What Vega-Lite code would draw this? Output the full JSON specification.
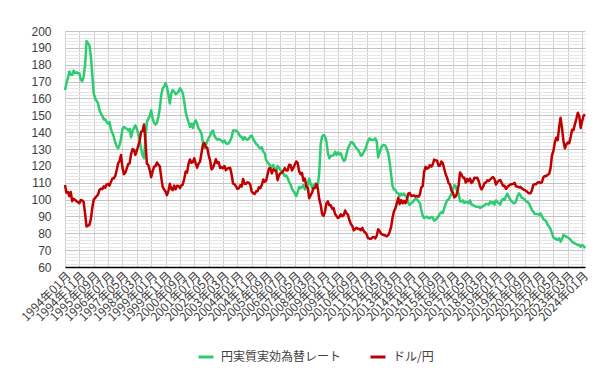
{
"$schema": "https://vega.github.io/schema/vega-lite/v6.json",
"width": 520, "height": 236,
"autosize": {"type": "none"},
"padding": {"left": 65, "top": 31, "right": 30, "bottom": 113},
"background": "white",
"config": {"view": {"stroke": null}, "font": "Liberation Sans"},
"data": {"values": [
{"d":"1994年01月","g":165,"r":108.6},{"d":"1994年02月","g":169,"r":104},{"d":"1994年03月","g":172,"r":104.5},{"d":"1994年04月","g":176,"r":102},{"d":"1994年05月","g":174,"r":104.5},{"d":"1994年06月","g":174,"r":99},{"d":"1994年07月","g":176.5,"r":100.5},{"d":"1994年08月","g":175,"r":99.8},{"d":"1994年09月","g":175.5,"r":99},{"d":"1994年10月","g":175,"r":98.5},{"d":"1994年11月","g":175,"r":97.8},{"d":"1994年12月","g":171,"r":99.7},
{"d":"1995年01月","g":170.3,"r":99.5},{"d":"1995年02月","g":173,"r":98.5},{"d":"1995年03月","g":180,"r":91.5},{"d":"1995年04月","g":194,"r":84},{"d":"1995年05月","g":192.7,"r":84.5},{"d":"1995年06月","g":191.5,"r":85},{"d":"1995年07月","g":185,"r":88.5},{"d":"1995年08月","g":174,"r":95},{"d":"1995年09月","g":163,"r":100},{"d":"1995年10月","g":160,"r":101},{"d":"1995年11月","g":158.5,"r":102},{"d":"1995年12月","g":157,"r":103},
{"d":"1996年01月","g":153,"r":105.7},{"d":"1996年02月","g":151,"r":106.5},{"d":"1996年03月","g":149.6,"r":106.2},{"d":"1996年04月","g":147.5,"r":107.8},{"d":"1996年05月","g":147.6,"r":107},{"d":"1996年06月","g":146,"r":109},{"d":"1996年07月","g":145,"r":109.3},{"d":"1996年08月","g":146,"r":108.3},{"d":"1996年09月","g":141.5,"r":110.5},{"d":"1996年10月","g":139.5,"r":112.5},{"d":"1996年11月","g":137,"r":112.6},{"d":"1996年12月","g":134,"r":114},
{"d":"1997年01月","g":131.5,"r":117.5},{"d":"1997年02月","g":130.4,"r":121.5},{"d":"1997年03月","g":132.4,"r":123},{"d":"1997年04月","g":136,"r":126.4},{"d":"1997年05月","g":142,"r":119},{"d":"1997年06月","g":143,"r":115},{"d":"1997年07月","g":142.5,"r":116},{"d":"1997年08月","g":142,"r":118.5},{"d":"1997年09月","g":141,"r":121},{"d":"1997年10月","g":142,"r":121.5},{"d":"1997年11月","g":137,"r":127},{"d":"1997年12月","g":140.5,"r":130},
{"d":"1998年01月","g":142.5,"r":129.5},{"d":"1998年02月","g":144,"r":126.5},{"d":"1998年03月","g":142,"r":129.1},{"d":"1998年04月","g":139,"r":131.8},{"d":"1998年05月","g":135,"r":135},{"d":"1998年06月","g":130,"r":140.3},{"d":"1998年07月","g":126.5,"r":140.7},{"d":"1998年08月","g":124.5,"r":144.5},{"d":"1998年09月","g":136,"r":134.5},{"d":"1998年10月","g":146,"r":121.3},{"d":"1998年11月","g":148,"r":120.6},{"d":"1998年12月","g":149.5,"r":117.4},
{"d":"1999年01月","g":153,"r":113.2},{"d":"1999年02月","g":148,"r":116.7},{"d":"1999年03月","g":145.6,"r":119.5},{"d":"1999年04月","g":144.5,"r":119.8},{"d":"1999年05月","g":145.5,"r":122},{"d":"1999年06月","g":149,"r":120.7},{"d":"1999年07月","g":154,"r":119.7},{"d":"1999年08月","g":162,"r":113.2},{"d":"1999年09月","g":166,"r":107.5},{"d":"1999年10月","g":167,"r":106},{"d":"1999年11月","g":169,"r":104.8},{"d":"1999年12月","g":167,"r":102.6},
{"d":"2000年01月","g":162,"r":105.2},{"d":"2000年02月","g":157,"r":109.4},{"d":"2000年03月","g":163,"r":106.3},{"d":"2000年04月","g":165,"r":105.6},{"d":"2000年05月","g":164,"r":108.3},{"d":"2000年06月","g":162.5,"r":106.1},{"d":"2000年07月","g":163,"r":108.2},{"d":"2000年08月","g":164,"r":108.1},{"d":"2000年09月","g":166,"r":106.8},{"d":"2000年10月","g":165,"r":108.4},{"d":"2000年11月","g":163,"r":109},{"d":"2000年12月","g":158,"r":112.2},
{"d":"2001年01月","g":152,"r":116.7},{"d":"2001年02月","g":148.5,"r":116.1},{"d":"2001年03月","g":146,"r":121.2},{"d":"2001年04月","g":143,"r":123.8},{"d":"2001年05月","g":145,"r":121.8},{"d":"2001年06月","g":142.5,"r":122.2},{"d":"2001年07月","g":145.5,"r":124.5},{"d":"2001年08月","g":147,"r":121.5},{"d":"2001年09月","g":145,"r":118.9},{"d":"2001年10月","g":142,"r":121.4},{"d":"2001年11月","g":141,"r":122.4},{"d":"2001年12月","g":139,"r":127.5},
{"d":"2002年01月","g":134,"r":132.7},{"d":"2002年02月","g":130.5,"r":133.6},{"d":"2002年03月","g":132,"r":131},{"d":"2002年04月","g":134.5,"r":130.8},{"d":"2002年05月","g":136.5,"r":126.4},{"d":"2002年06月","g":138,"r":123.3},{"d":"2002年07月","g":140,"r":117.9},{"d":"2002年08月","g":141,"r":118.9},{"d":"2002年09月","g":138,"r":121.1},{"d":"2002年10月","g":136.5,"r":123.9},{"d":"2002年11月","g":135.5,"r":121.6},{"d":"2002年12月","g":136,"r":122.2},
{"d":"2003年01月","g":135.5,"r":118.7},{"d":"2003年02月","g":135,"r":119.3},{"d":"2003年03月","g":134,"r":118.6},{"d":"2003年04月","g":135,"r":119.9},{"d":"2003年05月","g":133.5,"r":117.4},{"d":"2003年06月","g":133,"r":118.3},{"d":"2003年07月","g":133.5,"r":118.7},{"d":"2003年08月","g":135,"r":118.7},{"d":"2003年09月","g":137,"r":114.8},{"d":"2003年10月","g":141,"r":109.5},{"d":"2003年11月","g":141,"r":109.2},{"d":"2003年12月","g":141,"r":107.8},
{"d":"2004年01月","g":140.5,"r":106.3},{"d":"2004年02月","g":139,"r":106.7},{"d":"2004年03月","g":137.5,"r":108.5},{"d":"2004年04月","g":137,"r":107.7},{"d":"2004年05月","g":135.5,"r":112.2},{"d":"2004年06月","g":137,"r":109.4},{"d":"2004年07月","g":136,"r":109.4},{"d":"2004年08月","g":135.5,"r":110.2},{"d":"2004年09月","g":136,"r":110},{"d":"2004年10月","g":137.5,"r":108.8},{"d":"2004年11月","g":138,"r":104.7},{"d":"2004年12月","g":136,"r":103.8},
{"d":"2005年01月","g":134.5,"r":103.3},{"d":"2005年02月","g":133,"r":104.9},{"d":"2005年03月","g":132.5,"r":104.9},{"d":"2005年04月","g":131,"r":107.3},{"d":"2005年05月","g":130.5,"r":106.8},{"d":"2005年06月","g":131,"r":108.6},{"d":"2005年07月","g":128.5,"r":111.9},{"d":"2005年08月","g":127.5,"r":110.6},{"d":"2005年09月","g":123.5,"r":111.2},{"d":"2005年10月","g":122,"r":114.9},{"d":"2005年11月","g":121,"r":118.4},{"d":"2005年12月","g":120,"r":118.6},
{"d":"2006年01月","g":119.5,"r":115.5},{"d":"2006年02月","g":120.5,"r":117.9},{"d":"2006年03月","g":118,"r":117.3},{"d":"2006年04月","g":117,"r":117.1},{"d":"2006年05月","g":120,"r":111.5},{"d":"2006年06月","g":119,"r":114.5},{"d":"2006年07月","g":117.5,"r":115.6},{"d":"2006年08月","g":116.5,"r":115.9},{"d":"2006年09月","g":115.6,"r":117.1},{"d":"2006年10月","g":113.8,"r":118.7},{"d":"2006年11月","g":114.3,"r":117.3},{"d":"2006年12月","g":112.8,"r":117.3},
{"d":"2007年01月","g":110.5,"r":120.6},{"d":"2007年02月","g":109,"r":120.5},{"d":"2007年03月","g":106.5,"r":117.3},{"d":"2007年04月","g":105,"r":118.8},{"d":"2007年05月","g":103.7,"r":120.8},{"d":"2007年06月","g":102,"r":122.6},{"d":"2007年07月","g":104.5,"r":121.6},{"d":"2007年08月","g":107.5,"r":116.7},{"d":"2007年09月","g":106.8,"r":115},{"d":"2007年10月","g":107.5,"r":115.8},{"d":"2007年11月","g":108.6,"r":111.1},{"d":"2007年12月","g":106,"r":112.4},
{"d":"2008年01月","g":107,"r":107.8},{"d":"2008年02月","g":109,"r":107.1},{"d":"2008年03月","g":112.5,"r":100.8},{"d":"2008年04月","g":109.5,"r":102.6},{"d":"2008年05月","g":107,"r":104.1},{"d":"2008年06月","g":108.5,"r":106.9},{"d":"2008年07月","g":109.5,"r":106.9},{"d":"2008年08月","g":107,"r":109.3},{"d":"2008年09月","g":108.5,"r":106.6},{"d":"2008年10月","g":116,"r":100.1},{"d":"2008年11月","g":133,"r":96.9},{"d":"2008年12月","g":137.5,"r":91.3},
{"d":"2009年01月","g":138.3,"r":90.3},{"d":"2009年02月","g":137.5,"r":92.9},{"d":"2009年03月","g":134.5,"r":97.8},{"d":"2009年04月","g":127.5,"r":98.9},{"d":"2009年05月","g":124.5,"r":96.6},{"d":"2009年06月","g":126,"r":96.6},{"d":"2009年07月","g":126,"r":94.5},{"d":"2009年08月","g":126.5,"r":94.9},{"d":"2009年09月","g":128.4,"r":91.4},{"d":"2009年10月","g":126.5,"r":90.3},{"d":"2009年11月","g":128,"r":89.1},{"d":"2009年12月","g":126.8,"r":89.6},
{"d":"2010年01月","g":127.4,"r":91.2},{"d":"2010年02月","g":125,"r":90.2},{"d":"2010年03月","g":123,"r":90.7},{"d":"2010年04月","g":123.5,"r":93.5},{"d":"2010年05月","g":127,"r":91.8},{"d":"2010年06月","g":130.5,"r":90.9},{"d":"2010年07月","g":132,"r":87.7},{"d":"2010年08月","g":134,"r":85.5},{"d":"2010年09月","g":134,"r":84.4},{"d":"2010年10月","g":133,"r":81.8},{"d":"2010年11月","g":131.4,"r":82.5},{"d":"2010年12月","g":130.4,"r":83.3},
{"d":"2011年01月","g":129.5,"r":82.6},{"d":"2011年02月","g":128,"r":82.6},{"d":"2011年03月","g":126,"r":81.8},{"d":"2011年04月","g":126.5,"r":83.2},{"d":"2011年05月","g":128.5,"r":81.2},{"d":"2011年06月","g":129.5,"r":80.5},{"d":"2011年07月","g":132.4,"r":79.3},{"d":"2011年08月","g":135,"r":77.1},{"d":"2011年09月","g":136.3,"r":76.8},{"d":"2011年10月","g":135.5,"r":76.7},{"d":"2011年11月","g":135.3,"r":77.5},{"d":"2011年12月","g":135.5,"r":77.8},
{"d":"2012年01月","g":136.3,"r":76.9},{"d":"2012年02月","g":134.5,"r":78.5},{"d":"2012年03月","g":125,"r":82.4},{"d":"2012年04月","g":128,"r":81.4},{"d":"2012年05月","g":130.5,"r":79.7},{"d":"2012年06月","g":132,"r":79.3},{"d":"2012年07月","g":132.4,"r":79},{"d":"2012年08月","g":132,"r":78.7},{"d":"2012年09月","g":130,"r":78.2},{"d":"2012年10月","g":127.5,"r":78.9},{"d":"2012年11月","g":122.5,"r":80.8},{"d":"2012年12月","g":115,"r":83.6},
{"d":"2013年01月","g":108,"r":89.2},{"d":"2013年02月","g":106,"r":93.1},{"d":"2013年03月","g":105.7,"r":94.8},{"d":"2013年04月","g":104,"r":97.7},{"d":"2013年05月","g":103.7,"r":101.1},{"d":"2013年06月","g":102,"r":97.3},{"d":"2013年07月","g":103.5,"r":99.7},{"d":"2013年08月","g":102.8,"r":97.8},{"d":"2013年09月","g":103.5,"r":99.2},{"d":"2013年10月","g":102,"r":97.8},{"d":"2013年11月","g":101.5,"r":100.1},{"d":"2013年12月","g":98,"r":103.5},
{"d":"2014年01月","g":96.8,"r":103.9},{"d":"2014年02月","g":97.8,"r":102.1},{"d":"2014年03月","g":98.5,"r":102.3},{"d":"2014年04月","g":99.5,"r":102.5},{"d":"2014年05月","g":100.7,"r":101.8},{"d":"2014年06月","g":100.2,"r":102.1},{"d":"2014年07月","g":99,"r":101.7},{"d":"2014年08月","g":98,"r":102.9},{"d":"2014年09月","g":94,"r":107.1},{"d":"2014年10月","g":90.5,"r":108},{"d":"2014年11月","g":89,"r":116.4},{"d":"2014年12月","g":89.5,"r":119.4},
{"d":"2015年01月","g":89.9,"r":118.3},{"d":"2015年02月","g":89,"r":118.8},{"d":"2015年03月","g":88.9,"r":120.4},{"d":"2015年04月","g":89.7,"r":119.5},{"d":"2015年05月","g":89.3,"r":120.8},{"d":"2015年06月","g":87.5,"r":123.7},{"d":"2015年07月","g":88,"r":123.3},{"d":"2015年08月","g":89,"r":123.1},{"d":"2015年09月","g":90,"r":120.1},{"d":"2015年10月","g":91.7,"r":120.1},{"d":"2015年11月","g":92.5,"r":122.6},{"d":"2015年12月","g":92,"r":121.6},
{"d":"2016年01月","g":95,"r":118.3},{"d":"2016年02月","g":97.5,"r":115},{"d":"2016年03月","g":99.5,"r":113},{"d":"2016年04月","g":100,"r":109.8},{"d":"2016年05月","g":101.7,"r":109},{"d":"2016年06月","g":103.3,"r":105.4},{"d":"2016年07月","g":106,"r":104.1},{"d":"2016年08月","g":108.5,"r":101.3},{"d":"2016年09月","g":108,"r":102},{"d":"2016年10月","g":105,"r":103.9},{"d":"2016年11月","g":103.5,"r":108.5},{"d":"2016年12月","g":99,"r":116.1},
{"d":"2017年01月","g":98.8,"r":114.9},{"d":"2017年02月","g":99.5,"r":113.1},{"d":"2017年03月","g":98,"r":112.9},{"d":"2017年04月","g":98.5,"r":110.1},{"d":"2017年05月","g":98.5,"r":112.2},{"d":"2017年06月","g":97.8,"r":110.9},{"d":"2017年07月","g":99.5,"r":112.4},{"d":"2017年08月","g":97,"r":109.8},{"d":"2017年09月","g":96.8,"r":110.8},{"d":"2017年10月","g":96.2,"r":112.9},{"d":"2017年11月","g":95.8,"r":112.8},{"d":"2017年12月","g":95.8,"r":112.9},
{"d":"2018年01月","g":95.8,"r":110.9},{"d":"2018年02月","g":95,"r":107.8},{"d":"2018年03月","g":95.8,"r":106},{"d":"2018年04月","g":96,"r":107.5},{"d":"2018年05月","g":96.5,"r":109.7},{"d":"2018年06月","g":97.5,"r":110.1},{"d":"2018年07月","g":97.3,"r":111.4},{"d":"2018年08月","g":97,"r":111},{"d":"2018年09月","g":98.8,"r":111.9},{"d":"2018年10月","g":97.8,"r":112.8},{"d":"2018年11月","g":98.5,"r":113.3},{"d":"2018年12月","g":97,"r":112.2},
{"d":"2019年01月","g":99.5,"r":108.9},{"d":"2019年02月","g":98.5,"r":110.4},{"d":"2019年03月","g":97.8,"r":111.2},{"d":"2019年04月","g":97,"r":111.6},{"d":"2019年05月","g":99.5,"r":109.8},{"d":"2019年06月","g":100.5,"r":108.1},{"d":"2019年07月","g":99.8,"r":108.2},{"d":"2019年08月","g":102,"r":106.3},{"d":"2019年09月","g":103.5,"r":107.5},{"d":"2019年10月","g":101.5,"r":108.2},{"d":"2019年11月","g":99.7,"r":108.9},{"d":"2019年12月","g":99,"r":109.1},
{"d":"2020年01月","g":98,"r":109.3},{"d":"2020年02月","g":97.8,"r":110},{"d":"2020年03月","g":99,"r":107.7},{"d":"2020年04月","g":102,"r":107.8},{"d":"2020年05月","g":103.7,"r":107.2},{"d":"2020年06月","g":102.7,"r":107.6},{"d":"2020年07月","g":101,"r":106.7},{"d":"2020年08月","g":100.7,"r":106},{"d":"2020年09月","g":100,"r":105.6},{"d":"2020年10月","g":99,"r":105.2},{"d":"2020年11月","g":98.5,"r":104.4},{"d":"2020年12月","g":97.8,"r":103.8},
{"d":"2021年01月","g":95.8,"r":103.7},{"d":"2021年02月","g":94,"r":105.4},{"d":"2021年03月","g":92.8,"r":108.7},{"d":"2021年04月","g":91.5,"r":109.1},{"d":"2021年05月","g":91.5,"r":109.1},{"d":"2021年06月","g":91.5,"r":110.1},{"d":"2021年07月","g":91,"r":110.3},{"d":"2021年08月","g":91.8,"r":109.9},{"d":"2021年09月","g":90,"r":110.2},{"d":"2021年10月","g":88.5,"r":113.2},{"d":"2021年11月","g":87.9,"r":114},{"d":"2021年12月","g":87,"r":113.9},
{"d":"2022年01月","g":85,"r":114.8},{"d":"2022年02月","g":84,"r":115.2},{"d":"2022年03月","g":82.5,"r":118.5},{"d":"2022年04月","g":80,"r":126.3},{"d":"2022年05月","g":77.5,"r":128.8},{"d":"2022年06月","g":77,"r":133.9},{"d":"2022年07月","g":76.5,"r":136.7},{"d":"2022年08月","g":76,"r":135.3},{"d":"2022年09月","g":77,"r":143.1},{"d":"2022年10月","g":75,"r":148.5},{"d":"2022年11月","g":76.5,"r":142.4},{"d":"2022年12月","g":79,"r":134.8},
{"d":"2023年01月","g":78.5,"r":130.4},{"d":"2023年02月","g":78,"r":132.7},{"d":"2023年03月","g":77.5,"r":133.9},{"d":"2023年04月","g":77,"r":133.4},{"d":"2023年05月","g":76,"r":137.1},{"d":"2023年06月","g":75,"r":141.4},{"d":"2023年07月","g":74.5,"r":141.2},{"d":"2023年08月","g":74,"r":144.8},{"d":"2023年09月","g":73.5,"r":147.9},{"d":"2023年10月","g":73,"r":151.5},{"d":"2023年11月","g":73,"r":149.5},{"d":"2023年12月","g":72,"r":142.5},
{"d":"2024年01月","g":73,"r":146.5},{"d":"2024年02月","g":72.5,"r":149.6},{"d":"2024年03月","g":71,"r":150.5}
]},
"transform": [{"fold": ["g", "r"], "as": ["s", "v"]}],
"mark": {"type": "line", "strokeWidth": 2.5, "strokeJoin": "round"},
"encoding": {
  "x": {"field": "d", "type": "ordinal", "sort": null,
    "scale": {"type": "point", "padding": 0},
    "axis": {"title": null,
      "values": ["1994年01月","1994年11月","1995年09月","1996年07月","1997年05月","1998年03月","1999年01月","1999年11月","2000年09月","2001年07月","2002年05月","2003年03月","2004年01月","2004年11月","2005年09月","2006年07月","2007年05月","2008年03月","2009年01月","2009年11月","2010年09月","2011年07月","2012年05月","2013年03月","2014年01月","2014年11月","2015年09月","2016年07月","2017年05月","2018年03月","2019年01月","2019年11月","2020年09月","2021年07月","2022年05月","2023年03月","2024年01月"],
      "labelAngle": -45, "labelAlign": "right", "labelBaseline": "top",
      "labelFont": "Noto Sans CJK JP", "labelFontSize": 12, "labelColor": "#404040",
      "labelOverlap": false, "labelBound": false, "labelPadding": 3,
      "ticks": false, "domainColor": "#000000", "domainWidth": 1.5,
      "grid": true, "gridColor": "#d0d0d0", "gridWidth": 1}},
  "y": {"field": "v", "type": "quantitative",
    "scale": {"domain": [60, 200], "nice": false, "zero": false},
    "axis": {"title": null,
      "values": [60,62,64,66,68,70,72,74,76,78,80,82,84,86,88,90,92,94,96,98,100,102,104,106,108,110,112,114,116,118,120,122,124,126,128,130,132,134,136,138,140,142,144,146,148,150,152,154,156,158,160,162,164,166,168,170,172,174,176,178,180,182,184,186,188,190,192,194,196,198,200],
      "labelExpr": "datum.value % 10 === 0 ? datum.value : ''",
      "labelFont": "Liberation Sans", "labelFontSize": 12, "labelColor": "#404040",
      "labelPadding": 14, "ticks": false, "domain": false,
      "grid": true,
      "gridColor": {"condition": {"test": "datum.value % 10 === 0", "value": "#c4c4c4"}, "value": "#e6e6e6"},
      "gridWidth": 1}},
  "color": {"field": "s", "type": "nominal",
    "scale": {"domain": ["g", "r"], "range": ["#2ecc71", "#c00000"]},
    "legend": {"title": null, "orient": "none", "legendX": 132, "legendY": 317,
      "direction": "horizontal", "symbolType": "stroke", "symbolStrokeWidth": 3, "symbolSize": 225,
      "labelFont": "Noto Sans CJK JP", "labelFontSize": 12, "labelColor": "#404040",
      "columnPadding": 22, "labelOffset": 6,
      "labelExpr": "datum.label == 'g' ? '円実質実効為替レート' : 'ドル/円'"}}
}
}
